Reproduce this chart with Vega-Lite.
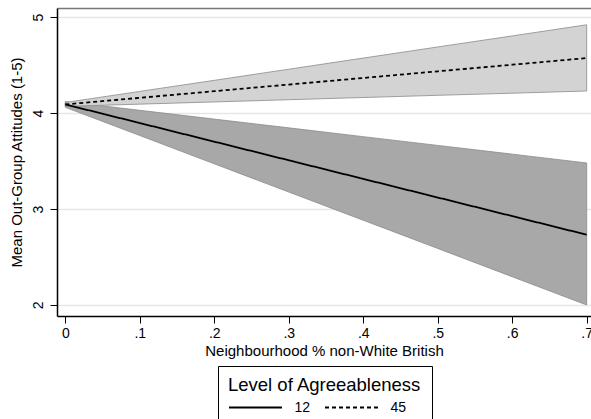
{
  "$schema": "https://vega.github.io/schema/vega-lite/v6.json",
  "autosize": {"type": "none"},
  "padding": {"left": 57, "top": 8, "right": 0, "bottom": 103},
  "width": 534,
  "height": 308,
  "background": "white",
  "config": {
    "font": "Liberation Sans",
    "view": {"stroke": null},
    "axis": {"labelFont": "Liberation Sans", "titleFont": "Liberation Sans", "labelColor": "black", "titleColor": "black", "titleFontWeight": "normal", "labelFontSize": 14, "titleFontSize": 15, "tickColor": "black", "domainColor": "black"},
    "legend": {"labelFont": "Liberation Sans", "titleFont": "Liberation Sans"}
  },
  "data": {"values": [
    {"x": 0.0, "agree": "12", "mean": 4.09, "lo": 4.06, "hi": 4.12},
    {"x": 0.1, "agree": "12", "mean": 3.896, "lo": 3.766, "hi": 4.029},
    {"x": 0.2, "agree": "12", "mean": 3.702, "lo": 3.471, "hi": 3.937},
    {"x": 0.3, "agree": "12", "mean": 3.508, "lo": 3.177, "hi": 3.846},
    {"x": 0.4, "agree": "12", "mean": 3.314, "lo": 2.883, "hi": 3.754},
    {"x": 0.5, "agree": "12", "mean": 3.12, "lo": 2.589, "hi": 3.663},
    {"x": 0.6, "agree": "12", "mean": 2.926, "lo": 2.294, "hi": 3.572},
    {"x": 0.7, "agree": "12", "mean": 2.732, "lo": 2.0, "hi": 3.48},
    {"x": 0.0, "agree": "45", "mean": 4.09, "lo": 4.07, "hi": 4.11},
    {"x": 0.1, "agree": "45", "mean": 4.159, "lo": 4.093, "hi": 4.226},
    {"x": 0.2, "agree": "45", "mean": 4.228, "lo": 4.116, "hi": 4.341},
    {"x": 0.3, "agree": "45", "mean": 4.297, "lo": 4.139, "hi": 4.457},
    {"x": 0.4, "agree": "45", "mean": 4.366, "lo": 4.162, "hi": 4.573},
    {"x": 0.5, "agree": "45", "mean": 4.435, "lo": 4.185, "hi": 4.689},
    {"x": 0.6, "agree": "45", "mean": 4.504, "lo": 4.207, "hi": 4.804},
    {"x": 0.7, "agree": "45", "mean": 4.573, "lo": 4.23, "hi": 4.92}
  ]},
  "resolve": {"axis": {"x": "independent"}},
  "layer": [
    {
      "transform": [{"filter": "datum.agree == '12'"}],
      "mark": {"type": "area", "fill": "#a8a8a8", "stroke": "#8a8a8a", "strokeWidth": 0.8, "opacity": 1},
      "encoding": {
        "x": {"field": "x", "type": "quantitative",
          "scale": {"domain": [-0.01114, 0.70577], "nice": false, "zero": false},
          "axis": {"orient": "bottom", "values": [0, 0.1, 0.2, 0.3, 0.4, 0.5, 0.6, 0.7], "labelExpr": "datum.value == 0 ? '0' : replace(format(datum.value, '.1f'), '0.', '.')", "grid": false, "tickSize": 7, "labelPadding": 3, "title": "Neighbourhood % non-White British", "titlePadding": 3, "domainWidth": 1.5, "labelFlush": false}},
        "y": {"field": "lo", "type": "quantitative",
          "scale": {"domain": [1.885, 5.095], "nice": false, "zero": false},
          "axis": {"values": [2, 3, 4, 5], "format": "d", "labelAngle": -90, "labelAlign": "center", "labelBaseline": "bottom", "tickSize": 7, "labelPadding": 5, "grid": true, "gridColor": "#e6e6e6", "gridWidth": 1.5, "title": "Mean Out-Group Attitudes (1-5)", "titlePadding": 7, "domainWidth": 1.5}},
        "y2": {"field": "hi"}
      }
    },
    {
      "transform": [{"filter": "datum.agree == '45'"}],
      "mark": {"type": "area", "fill": "#d3d3d3", "stroke": "#8a8a8a", "strokeWidth": 0.8, "opacity": 1},
      "encoding": {
        "x": {"field": "x", "type": "quantitative", "axis": null},
        "y": {"field": "lo", "type": "quantitative"},
        "y2": {"field": "hi"}
      }
    },
    {
      "mark": {"type": "line", "color": "black", "strokeWidth": 1.8},
      "encoding": {
        "x": {"field": "x", "type": "quantitative",
          "axis": {"orient": "top", "labels": false, "ticks": false, "grid": false, "title": null, "domainColor": "#777777", "domainWidth": 1.5}},
        "y": {"field": "mean", "type": "quantitative"},
        "strokeDash": {"field": "agree", "type": "nominal",
          "scale": {"domain": ["12", "45"], "range": [[1, 0], [4, 3]]},
          "legend": {"orient": "none", "legendX": 161, "legendY": 358, "direction": "horizontal", "title": "Level of Agreeableness", "titleFontSize": 18.5, "titleLimit": 400, "titleFontWeight": "normal", "titleColor": "black", "titleAnchor": "start", "titlePadding": 2, "labelFontSize": 14, "labelColor": "black", "labelOffset": 28, "columnPadding": 10, "symbolType": "M-2.65,0H2.65", "symbolSize": 400, "symbolOffset": 16.5, "symbolStrokeWidth": 1.8, "symbolStrokeColor": "black", "strokeColor": "black", "padding": 10}}
      }
    }
  ]
}
